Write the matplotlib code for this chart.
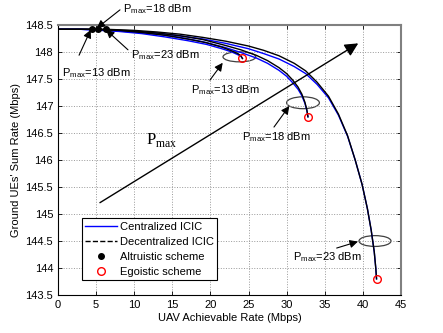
import matplotlib
matplotlib.use("Agg")
import matplotlib.pyplot as plt
from matplotlib.patches import Ellipse
from matplotlib.lines import Line2D

plt.rcParams['font.family'] = ['Liberation Sans', 'DejaVu Sans']

# --- data ---
# decentralized ICIC (black)
dec13_x = [0, 3, 4.4, 8, 11, 14, 17, 19.5, 21.5, 22.8, 23.6, 24.0, 24.2]
dec13_y = [148.42, 148.42, 148.42, 148.40, 148.36, 148.31, 148.24, 148.17, 148.09, 148.02, 147.97, 147.93, 147.88]
dec18_x = [0, 3, 5.3, 10, 13, 16, 19, 22, 24, 26, 27.5, 29, 30, 30.8, 31.5, 32, 32.4, 32.65, 32.8]
dec18_y = [148.42, 148.42, 148.42, 148.39, 148.35, 148.30, 148.23, 148.12, 148.04, 147.94, 147.84, 147.71,
           147.60, 147.48, 147.35, 147.22, 147.07, 146.93, 146.80]
dec23_x = [0, 3, 6.3, 10, 13, 16, 19, 22, 25, 27, 29, 31, 32.5, 34, 35.5, 36.8, 38, 39, 39.9, 40.6,
           41.1, 41.5, 41.7, 41.8]
dec23_y = [148.42, 148.42, 148.42, 148.40, 148.37, 148.33, 148.27, 148.20, 148.11, 148.03, 147.93, 147.79,
           147.65, 147.44, 147.18, 146.85, 146.45, 146.00, 145.55, 145.10, 144.70, 144.30, 144.00, 143.80]

# centralized ICIC (blue)
cen13_x = [0, 3, 4.4, 8, 11, 14, 17, 19.5, 21.5, 22.8, 23.6, 24.0, 24.2]
cen13_y = [148.42, 148.42, 148.41, 148.38, 148.34, 148.28, 148.21, 148.14, 148.06, 148.0, 147.95, 147.92, 147.88]
cen18_x = [0, 3, 5.3, 10, 13, 16, 19, 22, 24, 26, 27.5, 29, 30, 30.8, 31.5, 32, 32.4, 32.65, 32.8]
cen18_y = [148.42, 148.42, 148.41, 148.37, 148.33, 148.27, 148.19, 148.08, 147.99, 147.89, 147.79, 147.66,
           147.55, 147.43, 147.31, 147.19, 147.05, 146.92, 146.80]
cen23_x = [0, 3, 6.3, 10, 13, 16, 19, 22, 25, 27, 29, 31, 32.5, 34, 35.5, 36.8, 38, 39, 39.9, 40.6,
           41.1, 41.5, 41.7, 41.8]
cen23_y = [148.42, 148.42, 148.41, 148.38, 148.35, 148.30, 148.24, 148.16, 148.06, 147.97, 147.87, 147.73,
           147.60, 147.40, 147.15, 146.83, 146.44, 146.00, 145.55, 145.10, 144.70, 144.30, 144.00, 143.80]

alt_x = [4.4, 5.3, 6.3]
alt_y = [148.43, 148.43, 148.42]
ego_x = [24.2, 32.8, 41.8]
ego_y = [147.88, 146.8, 143.8]

fig = plt.figure(figsize=(4.43, 3.33), dpi=100)
ax = fig.add_axes([0.131, 0.114, 0.774, 0.811])

for x, y in [(cen13_x, cen13_y), (cen18_x, cen18_y), (cen23_x, cen23_y)]:
    ax.plot(x, y, color='blue', lw=1.0)
for x, y in [(dec13_x, dec13_y), (dec18_x, dec18_y), (dec23_x, dec23_y)]:
    ax.plot(x, y, color='black', lw=1.0)

ax.plot(alt_x, alt_y, 'o', color='black', ms=4)
ax.plot(ego_x, ego_y, 'o', mfc='none', mec='red', ms=5.5, mew=1.0)

# ellipses around egoistic points
for cx, cy, w, h in [(23.8, 147.91, 4.3, 0.185), (32.15, 147.06, 4.3, 0.22), (41.6, 144.5, 4.2, 0.2)]:
    ax.add_patch(Ellipse((cx, cy), w, h, fill=False, ec='0.25', lw=0.9))

# small arrows: (start, tip)
ap = dict(arrowstyle='-|>', color='black', lw=0.8, mutation_scale=12, shrinkA=0, shrinkB=0)
arrows = [((19.94, 147.48), (21.61, 147.80)),
          ((28.34, 146.61), (30.35, 147.00)),
          ((36.57, 144.37), (39.36, 144.49)),
          ((8.13, 148.78), (5.08, 148.44)),
          ((2.76, 147.94), (4.29, 148.41)),
          ((9.18, 148.04), (6.30, 148.41))]
for start, tip in arrows:
    ax.annotate('', xy=tip, xytext=start, arrowprops=ap, annotation_clip=False)

fs = 8
labels_txt = [(21.9, 147.30, '13'), (28.6, 146.43, '18'), (35.3, 144.20, '23'),
              (13.05, 148.80, '18'), (5.0, 147.60, '13'), (14.1, 147.94, '23')]
for tx, ty, p in labels_txt:
    ax.text(tx, ty, 'P$_{\\mathregular{max}}$=' + p + ' dBm', ha='center', va='center', fontsize=fs)

# big P_max arrow
ax.annotate('', xy=(39.4, 148.16), xytext=(5.5, 145.21),
            arrowprops=dict(arrowstyle='-|>', color='black', lw=1.0, mutation_scale=20,
                            shrinkA=0, shrinkB=0))
ax.text(13.6, 146.37, 'P$_{\\mathregular{max}}$', fontsize=12, family='Liberation Serif',
        ha='center', va='center')

ax.set_xlim(0, 45)
ax.set_ylim(143.5, 148.5)
ax.set_xticks(range(0, 46, 5))
ax.set_yticks([143.5, 144, 144.5, 145, 145.5, 146, 146.5, 147, 147.5, 148, 148.5])
ax.set_yticklabels(['143.5', '144', '144.5', '145', '145.5', '146', '146.5', '147', '147.5', '148', '148.5'])
ax.tick_params(direction='in', top=True, right=True, labelsize=8, length=3, width=0.6)
ax.grid(True, linestyle=':', color='0.6', lw=0.7)
for s in ['left', 'bottom']:
    ax.spines[s].set_linewidth(0.8)
for s in ['top', 'right']:
    ax.spines[s].set_color('0.5')
    ax.spines[s].set_linewidth(1.5)

ax.set_xlabel('UAV Achievable Rate (Mbps)', fontsize=8, labelpad=2)
ax.set_ylabel("Ground UEs' Sum Rate (Mbps)", fontsize=8, labelpad=3)

handles = [Line2D([], [], color='blue', lw=1.0),
           Line2D([], [], color='black', lw=1.0, ls='--'),
           Line2D([], [], color='black', marker='o', ls='none', ms=4),
           Line2D([], [], color='red', marker='o', mfc='none', ls='none', ms=5.5)]
labels = ['Centralized ICIC', 'Decentralized ICIC', 'Altruistic scheme', 'Egoistic scheme']
leg = ax.legend(handles, labels, loc='lower left', bbox_to_anchor=(0.069, 0.056), fontsize=8,
                fancybox=False, edgecolor='black', framealpha=1, borderpad=0.3,
                labelspacing=0.45, handlelength=2.9, handletextpad=0.25, borderaxespad=0)
leg.get_frame().set_linewidth(0.8)

fig.savefig('out.png', dpi=100)
